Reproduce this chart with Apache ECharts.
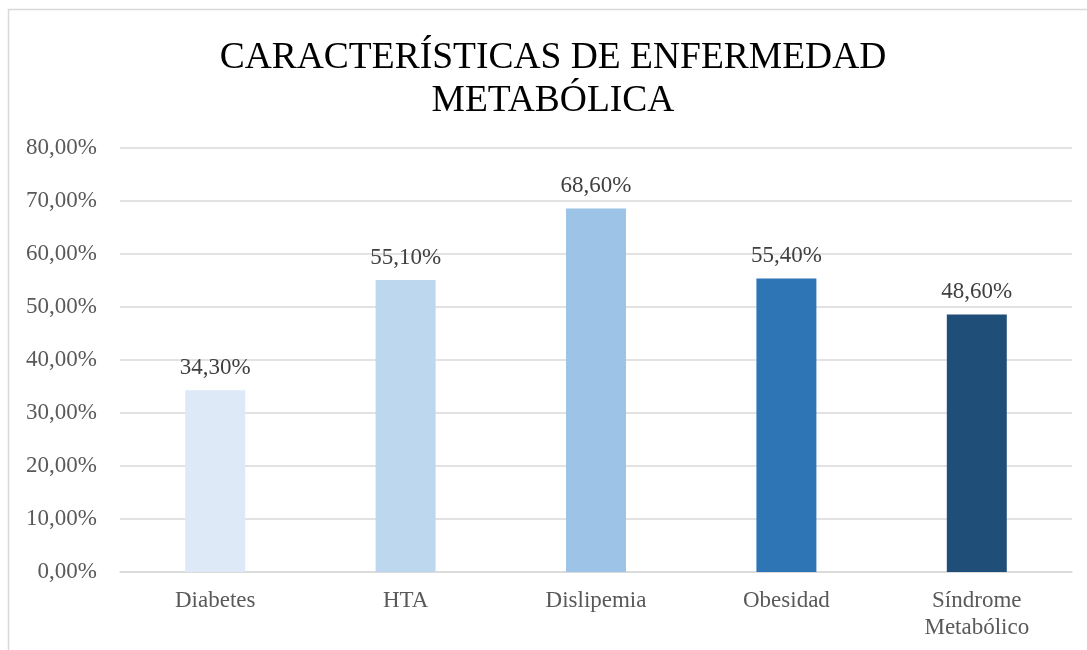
<!DOCTYPE html>
<html>
<head>
<meta charset="utf-8">
<script src="https://cdn.jsdelivr.net/npm/echarts@6/dist/echarts.min.js"></script>
<style>
  html, body { margin: 0; padding: 0; background: #fff; }
  #chart { width: 1087px; height: 650px; }
</style>
</head>
<body>
<div id="chart"></div>
<script>
const categories = ['Diabetes', 'HTA', 'Dislipemia', 'Obesidad', 'Síndrome\nMetabólico']
const values = [34.3, 55.1, 68.6, 55.4, 48.6]
const colors = ['#dde9f6', '#bdd7ee', '#9dc3e6', '#2e75b6', '#1f4e79']

const fmt = v => v.toFixed(2).replace('.', ',') + '%'

const chart = echarts.init(document.getElementById('chart'))

const option = {
  animation: false,
  graphic: [{
    type: 'rect',
    shape: { x: 8.5, y: 9.5, width: 1200, height: 800 },
    style: { fill: 'none', stroke: '#d9d9d9', lineWidth: 1.5 },
    silent: true
  }],
  title: {
    text: 'CARACTERÍSTICAS DE ENFERMEDAD\nMETABÓLICA',
    left: 553,
    textAlign: 'center',
    top: 32,
    textStyle: {
      fontFamily: 'Liberation Serif',
      fontSize: 37.5,
      fontWeight: 'normal',
      color: '#000',
      lineHeight: 43
    }
  },
  grid: { left: 120, right: 15, top: 148, bottom: 78 },
  xAxis: {
    type: 'category',
    data: categories,
    axisLine: { lineStyle: { color: '#d9d9d9', width: 1.5 } },
    axisTick: { show: false },
    axisLabel: {
      color: '#595959',
      fontFamily: 'Liberation Serif',
      fontSize: 23,
      lineHeight: 27,
      margin: 15
    }
  },
  yAxis: {
    type: 'value',
    min: 0,
    max: 80,
    interval: 10,
    axisLine: { show: false },
    axisTick: { show: false },
    splitLine: { lineStyle: { color: '#d9d9d9', width: 1.5 } },
    axisLabel: {
      color: '#595959',
      fontFamily: 'Liberation Serif',
      fontSize: 23,
      margin: 23,
      formatter: v => fmt(v)
    }
  },
  series: [{
    type: 'bar',
    barWidth: '31.5%',
    data: values.map((v, i) => ({ value: v, itemStyle: { color: colors[i] } })),
    label: {
      show: true,
      position: 'top',
      distance: 11,
      color: '#404040',
      fontFamily: 'Liberation Serif',
      fontSize: 23,
      formatter: p => fmt(p.value)
    }
  }]
}

// title sits a few pixels left of centre in the original
option.title.left = 548

chart.setOption(option)
</script>
</body>
</html>
